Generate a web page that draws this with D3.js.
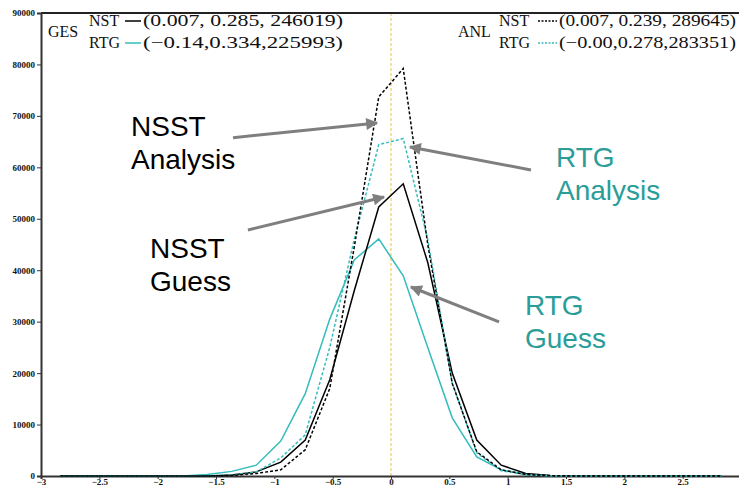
<!DOCTYPE html>
<html>
<head>
<meta charset="utf-8">
<script src="https://cdn.jsdelivr.net/npm/d3@7"></script>
<style>
  html, body { margin: 0; padding: 0; background: #fff; }
  svg { display: block; }
</style>
</head>
<body>
<div id="chart"></div>
<script>
/* Histogram of departures: NSST vs RTG, guess and analysis */

// bin centres (deg)
const binCenters = [-2.835, -2.625, -2.415, -2.205, -1.995, -1.785, -1.575, -1.365, -1.155, -0.945,
  -0.735, -0.525, -0.315, -0.105, 0.105, 0.315, 0.525, 0.735, 0.945, 1.155,
  1.365, 1.575, 1.785, 1.995, 2.205, 2.415, 2.625, 2.835];

// counts per bin
const nstGes = [0, 0, 0, 0, 0, 0, 0, 200, 800, 2700,
  7000, 18700, 36000, 52300, 56800, 41500, 20000, 7000, 2100, 500,
  100, 0, 0, 0, 0, 0, 0, 0];
const rtgGes = [0, 0, 0, 0, 0, 0, 300, 900, 2100, 6800,
  16000, 30500, 42000, 46100, 38900, 25000, 11300, 3700, 1200, 300,
  50, 0, 0, 0, 0, 0, 0, 0];
const nstAnl = [0, 0, 0, 0, 0, 0, 0, 100, 500, 1200,
  5100, 17000, 44500, 73700, 79200, 45000, 18000, 4700, 1200, 300,
  50, 0, 0, 0, 0, 0, 0, 0];
const rtgAnl = [0, 0, 0, 0, 0, 0, 0, 200, 800, 3500,
  8000, 25000, 46000, 64400, 65600, 46000, 18100, 4500, 1000, 300,
  50, 0, 0, 0, 0, 0, 0, 0];

const yTicks = [0, 10000, 20000, 30000, 40000, 50000, 60000, 70000, 80000, 90000];
const xTicks = [-3, -2.5, -2, -1.5, -1, -0.5, 0, 0.5, 1, 1.5, 2, 2.5];

const gesLegend = [
  { name: 'NST', stats: '(0.007, 0.285, 246019)' },
  { name: 'RTG', stats: '(\u22120.14,0.334,225993)' }
];
const anlLegend = [
  { name: 'NST', stats: '(0.007, 0.239, 289645)' },
  { name: 'RTG', stats: '(\u22120.00,0.278,283351)' }
];

// callout labels and the arrows that point at the curves (arrow ends in data units)
const callouts = [
  { lines: ['NSST', 'Analysis'], x: 131, y: 136, color: '#000', from: [-1.354, 65770], to: [-0.12, 68620] },
  { lines: ['NSST', 'Guess'], x: 150, y: 258, color: '#000', from: [-1.226, 47820], to: [-0.06, 54240] },
  { lines: ['RTG', 'Analysis'], x: 556, y: 167, color: '#2a9d99', from: [1.2, 59490], to: [0.163, 63960] },
  { lines: ['RTG', 'Guess'], x: 525, y: 315, color: '#2a9d99', from: [0.926, 29940], to: [0.171, 36740] }
];

const width = 739, height = 488;
const cyan = '#34bcbc';

const svg = d3.select('#chart').append('svg')
  .attr('width', width)
  .attr('height', height);

const x = d3.scaleLinear().domain([-3, 3]).range([41, 741]);
const y = d3.scaleLinear().domain([0, 90000]).range([476, 13]);

const tickFont = '"Liberation Serif", "DejaVu Serif", serif';

// zero line
svg.append('line')
  .attr('x1', x(0)).attr('x2', x(0))
  .attr('y1', y(90000)).attr('y2', y(0))
  .attr('stroke', '#e8c33a')
  .attr('stroke-width', 1)
  .attr('stroke-dasharray', '3,2');

// frame
svg.append('line')
  .attr('x1', x(-3)).attr('x2', width)
  .attr('y1', y(90000)).attr('y2', y(90000))
  .attr('stroke', '#222').attr('stroke-width', 2);

// axes
const yAxis = svg.append('g')
  .attr('transform', `translate(${x(-3)},0)`)
  .call(d3.axisLeft(y).tickValues(yTicks).tickSize(4).tickFormat(d3.format('d')));
const xAxis = svg.append('g')
  .attr('transform', `translate(0,${y(0)})`)
  .call(d3.axisBottom(x).tickValues(xTicks).tickSize(3).tickFormat(d => d));

[yAxis, xAxis].forEach(ax => {
  ax.select('.domain').attr('stroke', '#333').attr('stroke-width', 2);
  ax.selectAll('.tick line').attr('stroke', '#333');
  ax.selectAll('.tick text')
    .attr('fill', '#111')
    .attr('font-family', tickFont)
    .attr('font-weight', 'bold')
    .attr('font-size', '9px');
});
yAxis.selectAll('.tick text').attr('x', -6);
xAxis.selectAll('.tick text').attr('y', 3).text(d => d < 0 ? '\u2212' + Math.abs(d) : d);

// curves
const line = d3.line()
  .x((d, i) => x(binCenters[i]))
  .y(d => y(d));

const series = [
  { values: rtgGes, color: cyan, dash: null },
  { values: nstGes, color: '#000', dash: null },
  { values: rtgAnl, color: cyan, dash: '3,2' },
  { values: nstAnl, color: '#000', dash: '3,2' }
];

svg.selectAll('path.curve')
  .data(series)
  .join('path')
  .attr('class', 'curve')
  .attr('d', d => line(d.values))
  .attr('fill', 'none')
  .attr('stroke', d => d.color)
  .attr('stroke-width', 1.5)
  .attr('stroke-dasharray', d => d.dash);

// legends
const legFont = '"Liberation Serif", "DejaVu Serif", serif';

function drawLegend(title, rows, opts) {
  const g = svg.append('g');
  g.append('text')
    .attr('x', opts.titleX).attr('y', 37)
    .attr('font-family', legFont).attr('font-size', '16px')
    .attr('fill', '#111')
    .text(title);
  rows.forEach((r, i) => {
    const by = 26 + i * 22;
    g.append('text')
      .attr('x', opts.nameX).attr('y', by)
      .attr('font-family', legFont).attr('font-size', '16px')
      .attr('fill', '#111')
      .text(r.name);
    g.append('line')
      .attr('x1', opts.lineX[0]).attr('x2', opts.lineX[1])
      .attr('y1', by - 5).attr('y2', by - 5)
      .attr('stroke', i === 0 ? '#000' : cyan)
      .attr('stroke-width', 1.5)
      .attr('stroke-dasharray', opts.dash);
    g.append('text')
      .attr('x', opts.statsX).attr('y', by)
      .attr('font-family', legFont).attr('font-size', '16px')
      .attr('fill', '#111')
      .attr('textLength', opts.statsW)
      .attr('lengthAdjust', 'spacingAndGlyphs')
      .text(r.stats);
  });
}

drawLegend('GES', gesLegend, { titleX: 48, nameX: 89, lineX: [125, 141], statsX: 143, statsW: 200, dash: null });
drawLegend('ANL', anlLegend, { titleX: 458, nameX: 499, lineX: [538, 557], statsX: 559, statsW: 177, dash: '2,1.5' });

// callouts
const defs = svg.append('defs');
defs.append('marker')
  .attr('id', 'arrowhead')
  .attr('viewBox', '0 0 10 10')
  .attr('refX', 9).attr('refY', 5)
  .attr('markerWidth', 5).attr('markerHeight', 4)
  .attr('orient', 'auto')
  .append('path')
  .attr('d', 'M0,0 L10,5 L0,10 Z')
  .attr('fill', '#7f7f7f');

callouts.forEach(c => {
  svg.append('line')
    .attr('x1', x(c.from[0])).attr('y1', y(c.from[1]))
    .attr('x2', x(c.to[0])).attr('y2', y(c.to[1]))
    .attr('stroke', '#7f7f7f')
    .attr('stroke-width', 3)
    .attr('marker-end', 'url(#arrowhead)');
  c.lines.forEach((t, i) => {
    svg.append('text')
      .attr('x', c.x).attr('y', c.y + i * 33)
      .attr('font-family', '"Liberation Sans", Arial, sans-serif')
      .attr('font-size', '28px')
      .attr('fill', c.color)
      .text(t);
  });
});
</script>
</body>
</html>
